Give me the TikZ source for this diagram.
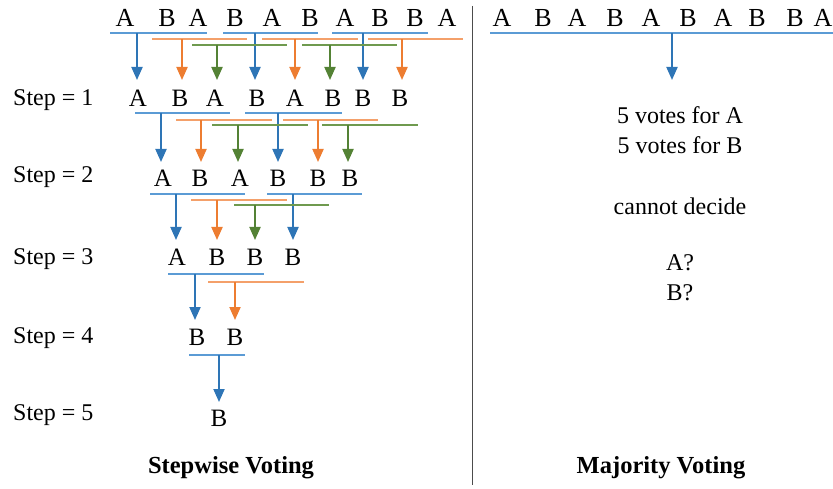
\documentclass[tikz,border=0pt]{standalone}
\usepackage{fontspec}
\setmainfont{Liberation Serif}
\usetikzlibrary{arrows.meta}
\definecolor{bA}{HTML}{2E75B6}
\definecolor{bL}{HTML}{5B9BD5}
\definecolor{oA}{HTML}{ED7D31}
\definecolor{oL}{HTML}{F4A06A}
\definecolor{gA}{HTML}{548235}
\definecolor{gL}{HTML}{6F9A4F}
\tikzset{
  ltr/.style={inner sep=0pt, font=\fontsize{25}{29}\selectfont},
  ltrtop/.style={inner sep=0pt, font=\fontsize{26}{30}\selectfont},
  lbl/.style={inner sep=0pt, font=\fontsize{24}{30}\selectfont},
  ttl/.style={inner sep=0pt, font=\fontsize{24.5}{30}\selectfont\bfseries},
  brkline/.style={line width=1.3pt},
  arrline/.style={line width=2pt, -{Triangle[width=11pt,length=13pt]}},
}
% bracket: colour-line, colour-arrow, y, x1, x2, arrow x, tip y
\newcommand\mybrk[7]{%
  \draw[brkline,#1] (#4,#3) -- (#5,#3);
  \coordinate (bt) at (#6,#3);
  \coordinate (tp) at (#6,#7);
  \draw[arrline,#2] (bt) -- (tp);
}
\begin{document}
\begin{tikzpicture}[x=1pt,y=-1pt]
\useasboundingbox (0,0) rectangle (833,489);
% separator
\draw[line width=1pt, black!70] (472,6) -- (472,485);
% rows of letters
\foreach \x/\t [count=\i] in {125/A,167/B,198/A,235/B,272/A,310/B,345/A,380/B,415/B,447/A}
  \node[ltrtop] (ra\i) at (\x,18) {\t};
\foreach \x/\t [count=\i] in {138/A,180/B,215/A,257/B,295/A,333/B,363/B,400/B}
  \node[ltr] (rb\i) at (\x,98) {\t};
\foreach \x/\t [count=\i] in {163/A,200/B,240/A,278/B,318/B,350/B}
  \node[ltr] (rc\i) at (\x,178) {\t};
\foreach \x/\t [count=\i] in {177/A,217/B,255/B,293/B}
  \node[ltr] (rd\i) at (\x,257) {\t};
\foreach \x/\t [count=\i] in {197/B,235/B}
  \node[ltr] (re\i) at (\x,337) {\t};
\node[ltr] (rf1) at (219,418) {B};
% level 1
\mybrk{bL}{bA}{33}{110}{207}{137}{80}
\mybrk{bL}{bA}{33}{223}{318}{255}{80}
\mybrk{bL}{bA}{33}{332}{428}{363}{80}
\mybrk{oL}{oA}{39}{152}{247}{182}{80}
\mybrk{oL}{oA}{39}{262}{358}{295}{80}
\mybrk{oL}{oA}{39}{368}{463}{402}{80}
\mybrk{gL}{gA}{45}{192}{287}{217}{80}
\mybrk{gL}{gA}{45}{302}{397}{330}{80}
% level 2
\mybrk{bL}{bA}{113}{135}{230}{161}{162}
\mybrk{bL}{bA}{113}{245}{342}{278}{162}
\mybrk{oL}{oA}{120}{176}{272}{201}{162}
\mybrk{oL}{oA}{120}{283}{378}{318}{162}
\mybrk{gL}{gA}{125}{212}{308}{238}{162}
\mybrk{gL}{gA}{125}{322}{418}{348}{162}
% level 3
\mybrk{bL}{bA}{194}{150}{245}{176}{240}
\mybrk{bL}{bA}{194}{267}{362}{293}{240}
\mybrk{oL}{oA}{200}{191}{287}{217}{240}
\mybrk{gL}{gA}{205}{234}{329}{255}{240}
% level 4
\mybrk{bL}{bA}{274}{168}{264}{195}{320}
\mybrk{oL}{oA}{282}{208}{304}{235}{320}
% level 5
\mybrk{bL}{bA}{355}{189}{245}{219}{402}
% step labels
\foreach \y/\s in {100/1,177/2,259/3,338/4,415/5}
  \node[lbl, anchor=west] (st\s) at (13,\y) {Step = \s};
% right side
\foreach \x/\t [count=\i] in {502/A,543/B,577/A,615/B,651/A,688/B,723/A,757/B,795/B,823/A}
  \node[ltrtop] (ma\i) at (\x,18) {\t};
\mybrk{bL}{bA}{33}{490}{833}{672}{80}
\node[lbl] (v1) at (680,115) {5 votes for A};
\node[lbl] (v2) at (680,145) {5 votes for B};
\node[lbl] (cd) at (680,206) {cannot decide};
\node[lbl] (qa) at (680,263) {A?};
\node[lbl] (qb) at (680,293) {B?};
% titles
\node[ttl] (t1) at (231,468) {Stepwise Voting};
\node[ttl] (t2) at (661,468) {Majority Voting};
\end{tikzpicture}
\end{document}
